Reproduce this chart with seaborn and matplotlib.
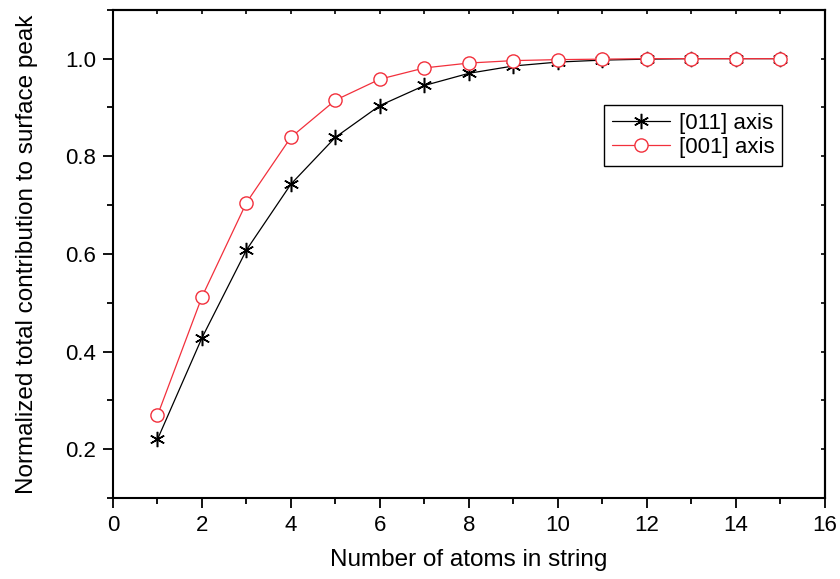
import matplotlib
matplotlib.use("Agg")
import matplotlib.pyplot as plt
from matplotlib.ticker import MultipleLocator
import seaborn as sns
import pandas as pd

atoms = [1, 2, 3, 4, 5, 6, 7, 8, 9, 10, 11, 12, 13, 14, 15]
axis_011 = [0.220, 0.428, 0.608, 0.743, 0.839, 0.904, 0.945, 0.970, 0.985,
            0.993, 0.997, 0.999, 1.000, 1.000, 1.000]
axis_001 = [0.269, 0.512, 0.705, 0.839, 0.915, 0.958, 0.981, 0.991, 0.996,
            0.998, 0.999, 1.000, 1.000, 1.000, 1.000]
labels = ["[011] axis", "[001] axis"]

sns.set_style("ticks")
plt.rcParams["font.family"] = ["Liberation Sans", "DejaVu Sans"]
plt.rcParams["text.color"] = "black"
plt.rcParams["axes.labelcolor"] = "black"
plt.rcParams["xtick.color"] = "black"
plt.rcParams["ytick.color"] = "black"

fig = plt.figure(figsize=(8.4, 5.79), dpi=100)
ax = fig.add_axes([0.1345, 0.140, 0.8475, 0.843])

df1 = pd.DataFrame({"n": atoms, "v": axis_011})
df2 = pd.DataFrame({"n": atoms, "v": axis_001})

red = "#f2303c"
sns.lineplot(data=df1, x="n", y="v", ax=ax, color="black", lw=0.9,
             marker=(6, 2, 0), markersize=11, markeredgewidth=1.1,
             markeredgecolor="black", label=labels[0])
sns.lineplot(data=df2, x="n", y="v", ax=ax, color=red, lw=0.9,
             marker="o", markersize=9.5, markerfacecolor="white",
             markeredgewidth=1.0, markeredgecolor=red, label=labels[1])

ax.set_xlim(0, 16)
ax.set_ylim(0.1, 1.1)
ax.xaxis.set_major_locator(MultipleLocator(2))
ax.xaxis.set_minor_locator(MultipleLocator(1))
ax.set_yticks([0.2, 0.4, 0.6, 0.8, 1.0])
ax.set_yticklabels(["0.2", "0.4", "0.6", "0.8", "1.0"])
ax.yaxis.set_minor_locator(MultipleLocator(0.1))

# bottom/left ticks point outward
ax.tick_params(which="both", direction="out", width=1.3, color="black",
               labelcolor="black", labelsize=16, pad=5)
ax.tick_params(which="major", length=7)
ax.tick_params(which="minor", length=4)

# top/right: short inward ticks without labels
top = ax.secondary_xaxis("top")
top.xaxis.set_major_locator(MultipleLocator(1))
top.tick_params(direction="in", length=3, width=1.2, labeltop=False)
right = ax.secondary_yaxis("right")
right.yaxis.set_major_locator(MultipleLocator(0.1))
right.tick_params(direction="in", length=3, width=1.2, labelright=False)
for s in list(ax.spines.values()) + [top.spines["top"], right.spines["right"]]:
    s.set_linewidth(1.5)
    s.set_color("black")

ax.set_xlabel("Number of atoms in string", fontsize=17.5, labelpad=10)
ax.set_ylabel("Normalized total contribution to surface peak", fontsize=17.5,
              labelpad=20)

leg = ax.legend(loc="upper left", bbox_to_anchor=(0.690, 0.805),
                borderaxespad=0, fontsize=16, frameon=True, fancybox=False,
                edgecolor="black", handlelength=2.6, borderpad=0.35,
                labelspacing=0.15, handletextpad=0.4)
leg.get_frame().set_linewidth(1.0)
leg.get_frame().set_alpha(1)

fig.savefig("out.png", dpi=100)
